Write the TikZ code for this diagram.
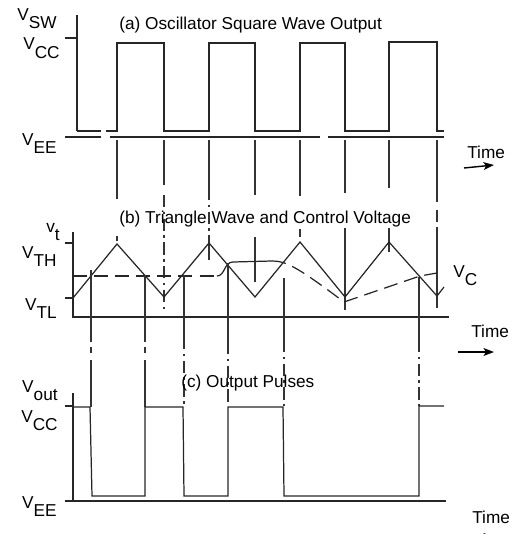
\documentclass[tikz,border=0pt]{standalone}
\usepackage{fontspec}
\setmainfont{Liberation Sans}
\usetikzlibrary{arrows.meta}
\newcommand{\vsub}[2]{#1\raisebox{-0.5em}{#2}}

\begin{document}
\begin{tikzpicture}[
  x=0.02cm,y=-0.02cm,
  wave/.style={line width=0.7pt,black!85},
  axis/.style={line width=0.7pt,black!85},
  guide/.style={line width=0.6pt,black!80},
  dashdot/.style={guide,dash pattern=on 7pt off 2.5pt on 1.5pt off 2.5pt},
  ctrl/.style={line width=0.7pt,black!85,dash pattern=on 8pt off 4pt},
  lbl/.style={font=\fontsize{9.8}{11}\selectfont,inner sep=0pt},
  yl/.style={lbl,anchor=base east},
  ttl/.style={lbl,anchor=base west},
  arr/.style={-{Stealth[length=6pt,width=4.5pt,inset=1.5pt]},line width=0.8pt}
]
  \clip (0,0) rectangle (522,534);

  \draw[axis] (77,15) -- (77,131);
  \draw[axis] (65,38) -- (77,38);
  \draw[axis] (65,137) -- (101,137);
  \draw[axis] (110,137) -- (320,137);
  \draw[axis] (328,137) -- (444,137);
  \draw[wave] (77,131) -- (101,131);
  \draw[wave] (106,131) -- (117,131) -- (117,43) -- (164,43) -- (164,131) -- (209,131) -- (209,43) -- (255,43) -- (255,131)
    -- (300,131) -- (300,43) -- (345,43) -- (345,131) -- (389,131) -- (389,42) -- (437,42) -- (437,131) -- (444,131);

  \foreach \x/\b in {117/199, 164/185, 209/188, 255/195, 300/196, 345/193, 389/188, 437/202}
    \draw[guide] (\x,140) -- (\x,\b);
  \draw[guide] (117,236) -- (117,241);
  \draw[dashdot] (164,195) -- (164,310);
  \draw[dashdot] (209,188) -- (209,243);
  \draw[guide] (209,243) -- (209,260);
  \draw[guide] (255,237) -- (255,282);
  \draw[guide] (300,229) -- (300,237);
  \draw[guide] (345,228) -- (345,310);
  \draw[guide] (389,228) -- (389,252);
  \draw[dashdot] (437,210) -- (437,228);
  \draw[guide] (437,228) -- (437,308);

  \draw[axis] (73,232) -- (73,317) -- (449,317);
  \draw[axis] (65,243) -- (73,243);
  \draw[axis] (65,298) -- (73,298);
  \draw[wave] (73,298) -- (117,244) -- (164,297) -- (209,243) -- (255,297) -- (300,242) -- (345,297) -- (389,242) -- (437,296) -- (444,287);
  \draw[ctrl] (73,276) -- (217,276);
  \draw[wave] (217,276) .. controls (225,276) and (224,262) .. (233,262) -- (272,261);
  \draw[ctrl] (272,261) .. controls (285,261) and (295,265) .. (344,302) -- (420,276) -- (437,273);

  \foreach \x/\a in {91/270, 145/275} {
    \draw[guide] (\x,\a) -- (\x,342);
    \draw[guide] (\x,347) -- (\x,353);
    \draw[guide] (\x,360) -- (\x,407);
  }
  \foreach \x/\a/\b in {184/275/337, 228/263/342, 284/278/340, 419/277/340} {
    \draw[guide] (\x,\a) -- (\x,\b);
    \draw[dashdot] (\x,\b) -- (\x,406);
  }

  \draw[axis] (73,393) -- (73,501);
  \draw[axis] (65,406) -- (73,406);
  \draw[axis] (65,501) -- (446,501);
  \draw[wave] (73,407) -- (90,407) -- (92,496) -- (145,496) -- (145,407) -- (183,407) -- (184,496) -- (228,496) -- (228,407)
    -- (283,407) -- (284,496) -- (419,496) -- (419,406) -- (444,406);

  \node[yl] (vsw) at (57,20) {\vsub{V}{SW}};
  \node[yl] (vcca) at (60,50) {\vsub{V}{CC}};
  \node[yl] (veea) at (57,145) {\vsub{V}{EE}};
  \node[yl] (vt) at (60,232) {\vsub{v}{t}};
  \node[yl] (vth) at (57,258) {\vsub{V}{TH}};
  \node[yl] (vtl) at (57,310) {\vsub{V}{TL}};
  \node[lbl,anchor=base west] (vc) at (453,277) {\vsub{V}{C}};
  \node[yl] (vout) at (58,392) {\vsub{V}{out}};
  \node[yl] (vccc) at (58,422) {\vsub{V}{CC}};
  \node[yl] (veec) at (57,508) {\vsub{V}{EE}};

  \node[ttl] (ttla) at (119,30) {(a) Oscillator Square Wave Output};
  \node[ttl] (ttlb) at (119,223) {(b) Triangle Wave and Control Voltage};
  \node[ttl] (ttlc) at (181,387) {(c) Output Pulses};

  \node[ttl] (timea) at (467,158) {Time};
  \node[ttl] (timeb) at (471,337) {Time};
  \node[ttl] (timec) at (472,523) {Time};
  \coordinate (ta1) at (464,168);
  \coordinate (ta2) at (494,165);
  \coordinate (tb1) at (458,352);
  \coordinate (tb2) at (494,352);
  \coordinate (tc1) at (458,537);
  \coordinate (tc2) at (494,537);
  \draw[arr] (ta1) -- (ta2);
  \draw[arr] (tb1) -- (tb2);
  \draw[arr] (tc1) -- (tc2);
\end{tikzpicture}
\end{document}
